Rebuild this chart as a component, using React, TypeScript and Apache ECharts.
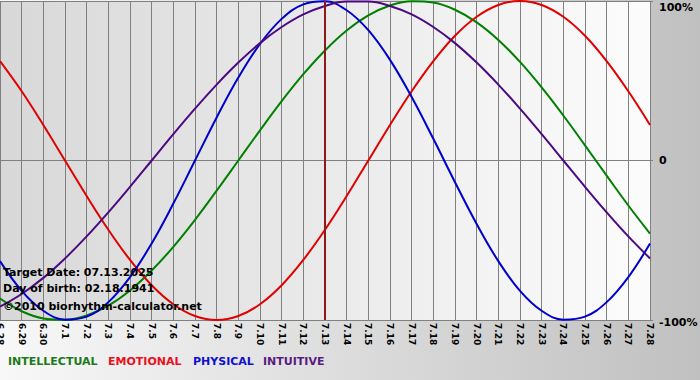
import React, { useEffect, useRef } from "react";
import * as echarts from "echarts";

const dates = [
  "6.28", "6.29", "6.30", "7.1", "7.2", "7.3", "7.4", "7.5", "7.6", "7.7", "7.8",
  "7.9", "7.10", "7.11", "7.12", "7.13", "7.14", "7.15", "7.16", "7.17", "7.18",
  "7.19", "7.20", "7.21", "7.22", "7.23", "7.24", "7.25", "7.26", "7.27", "7.28",
];

const intellectual = [
  -86.6, -94.5, -99.0, -99.9, -97.2, -91.0, -81.5, -69.0, -54.1, -37.2, -18.9,
  0, 18.9, 37.2, 54.1, 69.0, 81.5, 91.0, 97.2, 99.9, 99.0, 94.5, 86.6, 75.6,
  61.8, 45.8, 28.2, 9.5, -9.5, -28.2, -45.8,
];

const emotional = [
  62.3, 43.4, 22.3, 0, -22.3, -43.4, -62.3, -78.2, -90.1, -97.5, -100, -97.5,
  -90.1, -78.2, -62.3, -43.4, -22.3, 0, 22.3, 43.4, 62.3, 78.2, 90.1, 97.5, 100,
  97.5, 90.1, 78.2, 62.3, 43.4, 22.3,
];

const physical = [
  -63.1, -81.7, -94.2, -99.8, -97.9, -88.8, -73.1, -52.0, -27.0, 0, 27.0, 52.0,
  73.1, 88.8, 97.9, 99.8, 94.2, 81.7, 63.1, 39.8, 13.6, -13.6, -39.8, -63.1,
  -81.7, -94.2, -99.8, -97.9, -88.8, -73.1, -52.0,
];

const intuitive = [
  -91.6, -83.7, -73.6, -61.4, -47.6, -32.5, -16.5, 0, 16.5, 32.5, 47.6, 61.4,
  73.6, 83.7, 91.6, 96.9, 99.7, 99.7, 96.9, 91.6, 83.7, 73.6, 61.4, 47.6, 32.5,
  16.5, 0, -16.5, -32.5, -47.6, -61.4,
];

const targetDate = "7.13";
const infoLines = [
  "Target Date: 07.13.2025",
  "Day of birth: 02.18.1941",
  "\u00a92010 biorhythm-calculator.net",
];
const legendNames = ["INTELLECTUAL", "EMOTIONAL", "PHYSICAL", "INTUITIVE"];
const lineColors = ["#008000", "#e00000", "#0000cc", "#4b0a82"];
const legendColors = ["#1a7a1a", "#e8101e", "#1010d0", "#5a1a80"];

export default function App() {
  const ref = useRef<HTMLDivElement>(null);

  useEffect(() => {
    if (!ref.current) return;
    const chart = echarts.init(ref.current, undefined, { renderer: "svg" });
    const font = "DejaVu Sans";
    const seriesData = [intellectual, emotional, physical, intuitive];

    const legendX = [8, 108, 193, 263];
    const infoY = [272, 288, 306];

    chart.setOption({
      animation: false,
      backgroundColor: new echarts.graphic.LinearGradient(0, 0, 1, 0, [
        { offset: 0, color: "#f8f8f8" },
        { offset: 1, color: "#c0c0c0" },
      ]),
      grid: {
        left: 0,
        top: 1,
        width: 650,
        height: 319,
        show: true,
        borderWidth: 0,
        outerBoundsMode: "none",
        containLabel: false,
        backgroundColor: new echarts.graphic.LinearGradient(0, 0, 1, 0, [
          { offset: 0, color: "#d8d8d8" },
          { offset: 1, color: "#fcfcfc" },
        ]),
      },
      xAxis: {
        type: "category",
        data: dates,
        boundaryGap: false,
        axisLine: { show: true, lineStyle: { color: "#808080", width: 1 } },
        axisTick: { show: true, length: 3, lineStyle: { color: "#808080" } },
        splitLine: { show: true, lineStyle: { color: "#808080", width: 1 } },
        axisLabel: {
          rotate: -90,
          interval: 0,
          margin: 3,
          color: "#000",
          fontFamily: font,
          fontWeight: "bold",
          fontSize: 9,
        },
      },
      yAxis: {
        type: "value",
        position: "right",
        min: -100,
        max: 100,
        interval: 100,
        axisLine: { show: false },
        axisTick: { show: true, length: 3, lineStyle: { color: "#808080" } },
        splitLine: { show: true, lineStyle: { color: "#808080", width: 1 } },
        axisLabel: {
          margin: 9,
          color: "#000",
          fontFamily: font,
          fontWeight: "bold",
          fontSize: 11,
          formatter: (v: number) =>
            v === 100 ? "{top|100%}" : v === 0 ? "0" : "{bot|" + v + "%}",
          rich: {
            top: {
              padding: [12, 0, 0, 0],
              fontFamily: font,
              fontWeight: "bold",
              fontSize: 11,
              color: "#000",
            },
            bot: {
              padding: [4, 0, 0, 0],
              fontFamily: font,
              fontWeight: "bold",
              fontSize: 11,
              color: "#000",
            },
          },
        },
      },
      series: seriesData.map((d, i) => ({
        name: legendNames[i],
        type: "line",
        data: d,
        smooth: 0.4,
        showSymbol: false,
        symbol: "none",
        lineStyle: { color: lineColors[i], width: 2 },
        itemStyle: { color: lineColors[i] },
        z: 3 + i,
        ...(i === 0
          ? {
              markLine: {
                silent: true,
                symbol: "none",
                label: { show: false },
                lineStyle: { color: "#8b1a1a", width: 2, type: "solid" },
                data: [{ xAxis: targetDate }],
                z: 10,
              },
            }
          : {}),
      })),
      graphic: [
        ...infoLines.map((t, i) => ({
          type: "text",
          x: 3,
          y: infoY[i],
          z: 100,
          style: {
            text: t,
            fill: "#000",
            font: `bold 11px "${font}"`,
            textVerticalAlign: "middle",
          },
        })),
        ...legendNames.map((t, i) => ({
          type: "text",
          x: legendX[i],
          y: 361,
          style: {
            text: t,
            fill: legendColors[i],
            font: `bold 11px "${font}"`,
            textVerticalAlign: "middle",
          },
        })),
      ],
    });
    return () => chart.dispose();
  }, []);

  return (
    <div
      ref={ref}
      style={{ position: "fixed", left: 0, top: 0, width: 700, height: 380 }}
    />
  );
}
